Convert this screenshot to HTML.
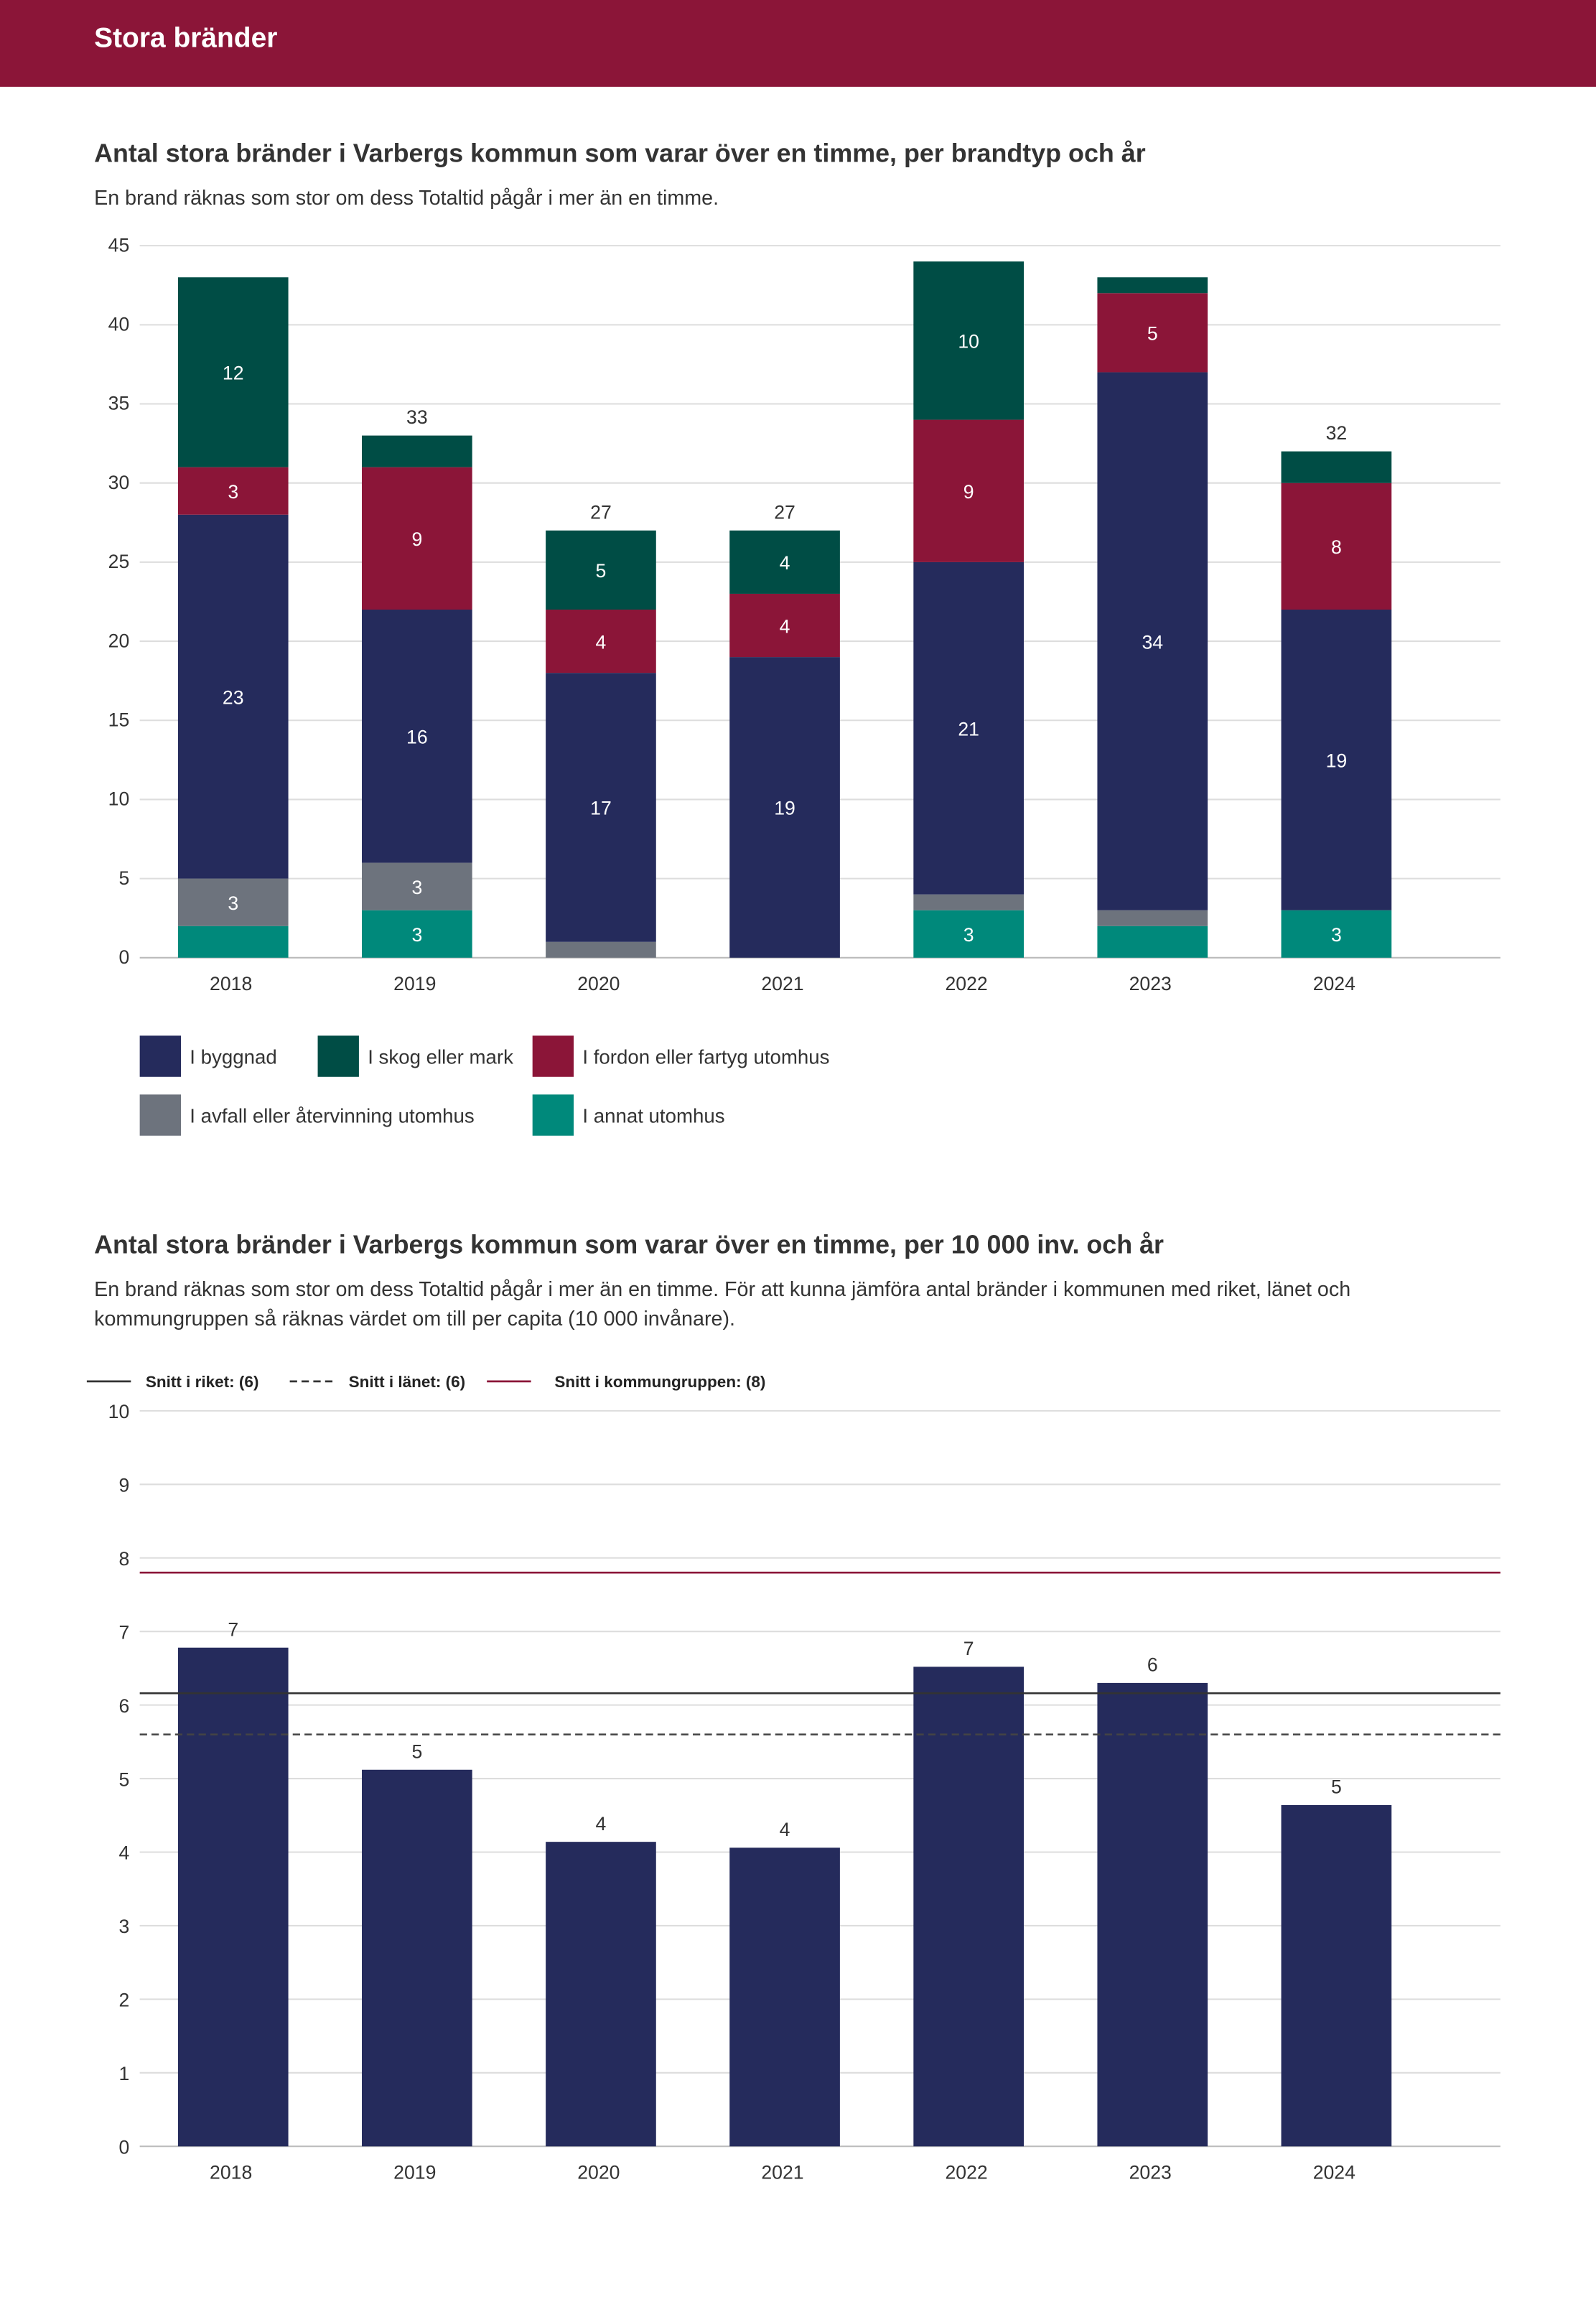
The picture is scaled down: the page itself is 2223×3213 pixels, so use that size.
<!DOCTYPE html>
<html><head><meta charset="utf-8">
<style>
html,body{margin:0;padding:0;background:#fff;}
body{width:2223px;height:3213px;overflow:hidden;}
#wrap{width:1085px;height:1568px;transform:scale(2.04885);transform-origin:0 0;position:relative;font-family:"Liberation Sans",sans-serif;color:#333;}
#header{position:absolute;left:0;top:0;width:1085px;height:59px;background:#8b1538;}
#header span{position:absolute;left:64px;top:16px;color:#fff;font-weight:bold;font-size:19px;}
.title{position:absolute;left:64px;font-weight:bold;font-size:17.5px;color:#333;}
.sub{position:absolute;left:64px;font-size:14px;color:#333;line-height:20px;width:960px;}
svg{position:absolute;left:0;overflow:visible;}
svg text{font-family:"Liberation Sans",sans-serif;}
</style></head><body>
<div id="wrap">
<div id="header"><span>Stora bränder</span></div>
<div class="title" style="top:94px">Antal stora bränder i Varbergs kommun som varar över en timme, per brandtyp och år</div>
<div class="sub" style="top:124px">En brand räknas som stor om dess Totaltid pågår i mer än en timme.</div>
<svg id="c1" width="1085" height="800" style="top:0"></svg>
<div class="title" style="top:836px">Antal stora bränder i Varbergs kommun som varar över en timme, per 10 000 inv. och år</div>
<div class="sub" style="top:866px">En brand räknas som stor om dess Totaltid pågår i mer än en timme. För att kunna jämföra antal bränder i kommunen med riket, länet och kommungruppen så räknas värdet om till per capita (10 000 invånare).</div>
<svg id="c2" width="1085" height="1568" style="top:0"></svg>
</div>
<script>
const years=["2018","2019","2020","2021","2022","2023","2024"];
const annat=[2,3,0,0,3,2,3];
const avfall=[3,3,1,0,1,1,0];
const byggnad=[23,16,17,19,21,34,19];
const fordon=[3,9,4,4,9,5,8];
const skog=[12,2,5,4,10,1,2];
const ticks1=[0,5,10,15,20,25,30,35,40,45];
const perCapita=[6.78,5.12,4.14,4.06,6.52,6.3,4.64];
const perCapitaLabels=["7","5","4","4","7","6","5"];
const ticks2=[0,1,2,3,4,5,6,7,8,9,10];
const riket=6.16, lanet=5.6, kommungrupp=7.8;

const NS="http://www.w3.org/2000/svg";
function mk(p,tag,at,txt){const e=document.createElementNS(NS,tag);for(const k in at)e.setAttribute(k,at[k]);if(txt!==undefined)e.textContent=txt;p.appendChild(e);return e;}
const xC=i=>158.5+i*125, bw=75;

// chart 1
const c1=document.getElementById('c1');
const y1=v=>651-v*(484/45);
ticks1.forEach(t=>{
  if(t>0){const g=mk(c1,'line',{x1:95,x2:1020,y1:y1(t),y2:y1(t),stroke:'#ddd','stroke-width':1});
  
  }
  const l=mk(c1,'text',{x:88,y:y1(t)+4,'text-anchor':'end','font-size':13,fill:'#333'},t);
  
  
});
const ax=mk(c1,'line',{x1:95,x2:1020,y1:651,y2:651,stroke:'#bbb'});


const series=[["annat",annat,"#00897b"],["avfall",avfall,"#6d737d"],["byggnad",byggnad,"#252b5c"],["fordon",fordon,"#8b1538"],["skog",skog,"#004d45"]];
years.forEach((yr,i)=>{
  let base=0;
  series.forEach(([nm,arr,col])=>{
    const v=arr[i]; if(v<=0)return;
    const r=mk(c1,'rect',{x:xC(i)-bw/2,y:y1(base+v),width:bw,height:y1(base)-y1(base+v),fill:col});
    
    
    if(v>=3){const t=mk(c1,'text',{x:xC(i),y:(y1(base)+y1(base+v))/2+5,'text-anchor':'middle','font-size':13,fill:'#fff'},v);
      
      }
    base+=v;
  });
  if(base<=40){const t=mk(c1,'text',{x:xC(i),y:y1(base)-8,'text-anchor':'middle','font-size':13,fill:'#333'},base);
    
    }
  const xl=mk(c1,'text',{x:xC(i)-1.5,y:673,'text-anchor':'middle','font-size':13,fill:'#333'},yr);
  
  
});
const leg=[["I byggnad","#252b5c",95,704],["I skog eller mark","#004d45",216,704],["I fordon eller fartyg utomhus","#8b1538",362,704],["I avfall eller återvinning utomhus","#6d737d",95,744],["I annat utomhus","#00897b",362,744]];
leg.forEach(([t,c,x,y])=>{
  const r=mk(c1,'rect',{x:x,y:y,width:28,height:28,fill:c});
  
  
  const tx=mk(c1,'text',{x:x+34,y:y+19,'font-size':13.5,fill:'#333'},t);
  
  
});

// chart 2
const c2=document.getElementById('c2');
const y2=v=>1459-v*50;
ticks2.forEach(t=>{
  if(t>0){const g=mk(c2,'line',{x1:95,x2:1020,y1:y2(t),y2:y2(t),stroke:'#ddd'});
  
  }
  const l=mk(c2,'text',{x:88,y:y2(t)+5,'text-anchor':'end','font-size':13,fill:'#333'},t);
  
  
});
const ax2=mk(c2,'line',{x1:95,x2:1020,y1:1459,y2:1459,stroke:'#bbb'});


years.forEach((yr,i)=>{
  const v=perCapita[i];
  const r=mk(c2,'rect',{x:xC(i)-bw/2,y:y2(v),width:bw,height:1459-y2(v),fill:'#252b5c'});
  
  
  const t=mk(c2,'text',{x:xC(i),y:y2(v)-8,'text-anchor':'middle','font-size':13,fill:'#333'},perCapitaLabels[i]);
  
  
  const xl=mk(c2,'text',{x:xC(i)-1.5,y:1481,'text-anchor':'middle','font-size':13,fill:'#333'},yr);
  
  
});
const lr=mk(c2,'line',{x1:95,x2:1020,y1:y2(riket),y2:y2(riket),stroke:'#333','stroke-width':1.3});


const ll=mk(c2,'line',{x1:95,x2:1020,y1:y2(lanet),y2:y2(lanet),stroke:'#444','stroke-width':1.2,'stroke-dasharray':'5,3'});


const lk=mk(c2,'line',{x1:95,x2:1020,y1:y2(kommungrupp),y2:y2(kommungrupp),stroke:'#8b1538','stroke-width':1.3});


const leg2=[["Snitt i riket: (6)","#333",'',59,99],["Snitt i länet: (6)","#333",'5,3',197,237],["Snitt i kommungruppen: (8)","#8b1538",'',331,377]];
leg2.forEach(([t,c,d,x,tx])=>{
  const l=mk(c2,'line',{x1:x,x2:x+30,y1:939,y2:939,stroke:c,'stroke-width':1.3,'stroke-dasharray':d||'none'});
  
  
  const e=mk(c2,'text',{x:tx,y:943,'font-size':11,'font-weight':'bold',fill:'#222'},t);
  
  
});
</script>
</body></html>
